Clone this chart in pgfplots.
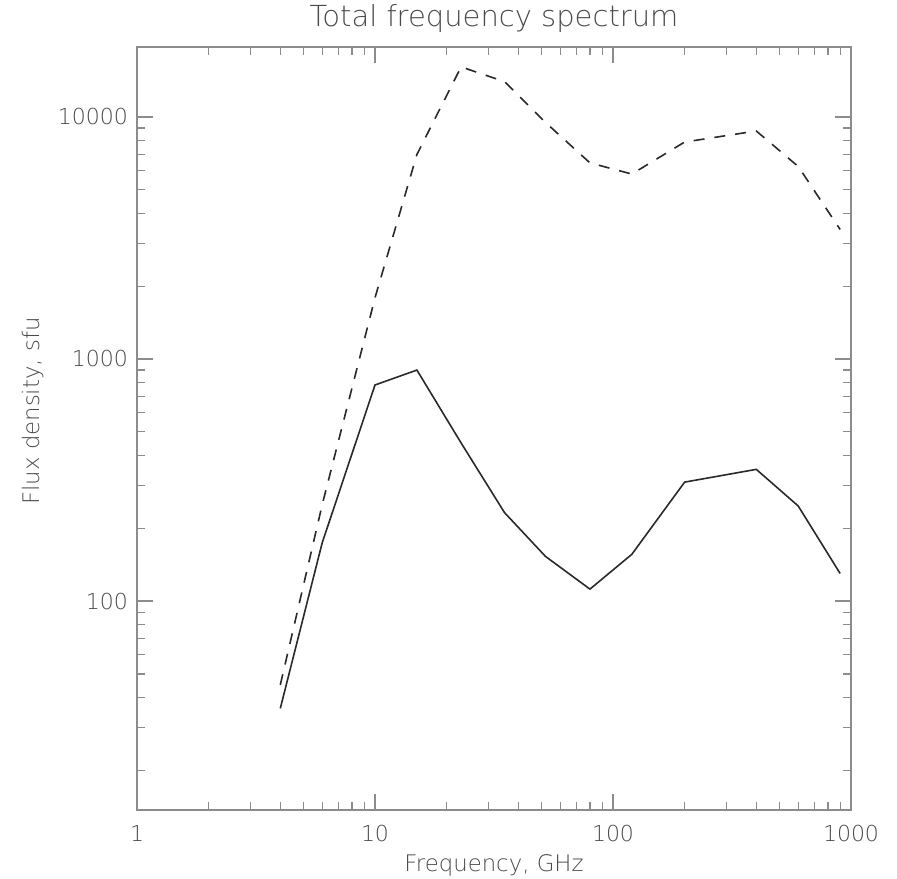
\documentclass[border=0pt]{standalone}
\usepackage{fontspec}
\setmainfont{DejaVu Sans ExtraLight}
\usepackage{pgfplots}
\pgfplotsset{compat=1.18}
\usetikzlibrary{calc}

\definecolor{axisgray}{HTML}{8C8C8C}
\definecolor{textgray}{HTML}{4A4A4A}
\definecolor{linedark}{HTML}{2A2A2A}

\pgfplotstableread{
f     flux
4     36
6     174
10    781
15    900
23    450
35    232
52    153
80    112
120   156
200   310
400   350
600   247
900   130
}\solidspec

\pgfplotstableread{
f     flux
4     45
6     250
10    1790
15    7000
23    16100
35    14000
52    9500
80    6460
120   5810
200   7880
400   8750
600   6245
900   3430
}\dashspec

\begin{document}
\begin{tikzpicture}
\begin{axis}[
  name=ax,
  at={(0,0)}, anchor=south west,
  scale only axis,
  width=357pt, height=381.5pt,
  xmode=log, ymode=log,
  xmin=1, xmax=1000,
  ymin=13.7, ymax=19460,
  axis line style={axisgray, line width=0.6pt},
  tick style={axisgray, line width=0.6pt},
  tick align=inside,
  major tick length=8pt,
  minor tick length=4pt,
  xtick={1,10,100,1000},
  xticklabels={1,10,100,1000},
  minor xtick={2,3,4,5,6,7,8,9,20,30,40,50,60,70,80,90,200,300,400,500,600,700,800,900},
  ytick={100,1000,10000},
  yticklabels={100,1000,10000},
  minor ytick={20,30,40,50,60,70,80,90,200,300,400,500,600,700,800,900,2000,3000,4000,5000,6000,7000,8000,9000},
  ticklabel style={font=\fontsize{11}{13}\selectfont, text=textgray},
  xticklabel style={anchor=north, yshift=-4pt},
  yticklabel style={anchor=east, xshift=-1pt},
  title={Total frequency spectrum},
  title style={font=\fontsize{14.5}{17}\selectfont, text=textgray, at={(axis description cs:0.5,1)}, anchor=base, yshift=4pt},
  xlabel={Frequency, GHz},
  xlabel style={font=\fontsize{11.4}{13}\selectfont, text=textgray, at={(axis description cs:0.5,0)}, anchor=base, yshift=-31pt},
  ylabel={Flux density, sfu},
  ylabel style={font=\fontsize{11.4}{13}\selectfont, text=textgray, at={(axis description cs:-0.1457,0.523)}, anchor=center},
]
\addplot[linedark, line width=0.8pt] table[x=f, y=flux] {\solidspec};
\addplot[linedark, line width=0.8pt, dash pattern=on 5.5pt off 5pt] table[x=f, y=flux] {\dashspec};
\end{axis}
\pgfresetboundingbox
\path[use as bounding box] ($(ax.south west)+(-68.5pt,-34.5pt)$) rectangle ($(ax.north east)+(23pt,23.5pt)$);
\end{tikzpicture}
\end{document}
